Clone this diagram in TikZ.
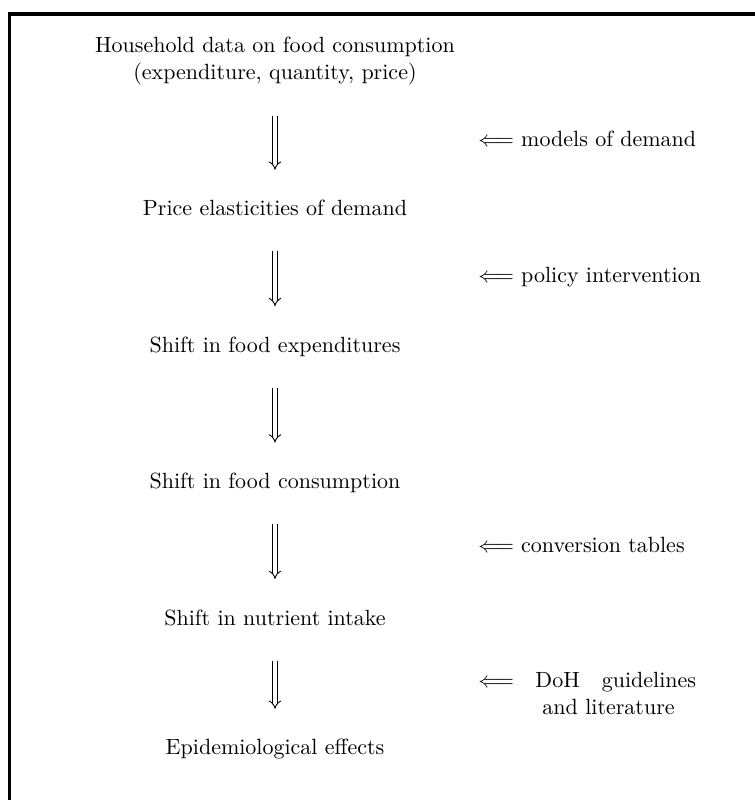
\documentclass[tikz,border=0pt]{standalone}
\usepackage{tikz}
\usetikzlibrary{arrows.meta,positioning}
\tikzstyle{stage} = [text height=1.6ex, text depth=.5ex, inner sep=3.33pt]
\tikzstyle{note}  = [anchor=base west, inner sep=0pt]
\tikzstyle{dbl}   = [draw, double, double distance=1.6pt, -{Implies[scale=1.35]},
                     shorten <=10.5pt, shorten >=10.5pt]
\tikzstyle{frame} = [draw, line width=1.4pt]

\begin{document}
\begin{tikzpicture}[x=0.4545pt, y=-0.4545pt, node distance=62pt]
	\useasboundingbox (0,0) rectangle (755,800);
	\draw[frame] (9.5,800) |- (755,14);

	\node[align=center] (house) at (275,61) {Household data on food consumption\\(expenditure, quantity, price)};
	\node[stage, below of=house, node distance=68pt] (elast) {Price elasticities of demand};
	\node[stage, below of=elast] (expend) {Shift in food expenditures};
	\node[stage, below of=expend] (consum) {Shift in food consumption};
	\node[stage, below of=consum] (nutri) {Shift in nutrient intake};
	\node[stage, below of=nutri, node distance=59pt] (epidem) {Epidemiological effects};

	\draw[dbl] (house) -- (elast);
	\draw[dbl] (elast) -- (expend);
	\draw[dbl] (expend) -- (consum);
	\draw[dbl] (consum) -- (nutri);
	\draw[dbl] (nutri) -- (epidem);

	\node[note] (demand) at (478,146.7) {$\Longleftarrow$ models of demand};
	\node[note] (policy) at (478,282.7) {$\Longleftarrow$ policy intervention};
	\node[note] (tables) at (478,552.7) {$\Longleftarrow$ conversion tables};
	\node[note] (doh) at (478,687.7) {$\Longleftarrow$};
	\node[note, text width=73pt, align=left] (dohtext) at (535,687.7) {\makebox[73pt]{DoH\hfill guidelines}\\\hspace*{3.2pt}and literature};
\end{tikzpicture}
\end{document}
